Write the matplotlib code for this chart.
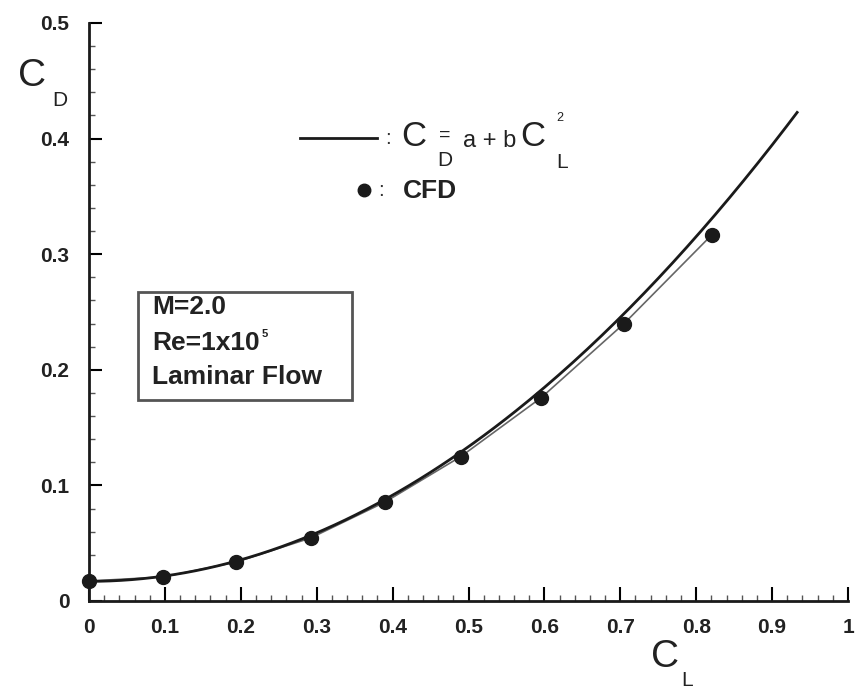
import numpy as np
import matplotlib
matplotlib.use("Agg")
import matplotlib.pyplot as plt
from matplotlib.lines import Line2D
from matplotlib.patches import Rectangle
from matplotlib.ticker import MultipleLocator, FuncFormatter

# CFD results
cl_cfd = [0.0, 0.098, 0.194, 0.292, 0.39, 0.49, 0.596, 0.705, 0.821]
cd_cfd = [0.0173, 0.0208, 0.0337, 0.0545, 0.0856, 0.125, 0.176, 0.240, 0.317]

# drag polar fit  C_D = a + b C_L^2
a_fit = 0.017
b_fit = 0.466
cl_fit_max = 0.933

W, H = 857, 688
plt.rcParams['font.family'] = ['Liberation Sans', 'DejaVu Sans']

def fx(x):
    return x / W

def fy(y):
    return 1 - y / H

fig = plt.figure(figsize=(W / 100, H / 100), dpi=100)
ax = fig.add_axes([fx(89), fy(601), (848 - 89) / W, (601 - 23) / H])

cl = np.linspace(0, cl_fit_max, 200)
ax.plot(cl, a_fit + b_fit * cl ** 2, color='#1a1a1a', lw=2.0, zorder=3)
ax.plot(cl_cfd, cd_cfd, color='#666666', lw=1.2, zorder=2)
ax.plot(cl_cfd, cd_cfd, 'o', color='#1a1a1a', ms=10, zorder=4, clip_on=False)

ax.set_xlim(0, 1)
ax.set_ylim(0, 0.5)
for s in ['top', 'right']:
    ax.spines[s].set_visible(False)
for s in ['left', 'bottom']:
    ax.spines[s].set_linewidth(2)
    ax.spines[s].set_color('#1a1a1a')

ax.xaxis.set_major_locator(MultipleLocator(0.1))
ax.xaxis.set_minor_locator(MultipleLocator(0.02))
ax.yaxis.set_major_locator(MultipleLocator(0.1))
ax.yaxis.set_minor_locator(MultipleLocator(0.02))
fmt = FuncFormatter(lambda v, p: '%g' % round(v, 2))
ax.xaxis.set_major_formatter(fmt)
ax.yaxis.set_major_formatter(fmt)
ax.tick_params(axis='x', which='major', direction='in', length=10, width=1.5, pad=12)
ax.tick_params(axis='y', which='major', direction='in', length=9, width=1.5, pad=14)
ax.tick_params(which='minor', direction='in', length=4, width=1, color='#555555')
for lab in ax.get_xticklabels() + ax.get_yticklabels():
    lab.set_fontweight('bold')
    lab.set_fontsize(15)
    lab.set_color('#222222')

# axis titles
fig.text(fx(18), fy(76), 'C', fontsize=28, va='center', ha='left', color='#222222')
fig.text(fx(52), fy(101), 'D', fontsize=15, va='center', ha='left', color='#222222')
fig.text(fx(651), fy(657), 'C', fontsize=28, va='center', ha='left', color='#222222')
fig.text(fx(681), fy(680), 'L', fontsize=15, va='center', ha='left', color='#222222')

# legend
fig.add_artist(Line2D([fx(300), fx(377)], [fy(138), fy(138)], color='#1a1a1a', lw=2))
fig.text(fx(385), fy(138), ':', fontsize=15, va='center', ha='left', color='#333333')
fig.text(fx(401), fy(136), 'C', fontsize=25, va='center', ha='left', color='#222222')
fig.text(fx(437), fy(161), 'D', fontsize=15, va='center', ha='left', color='#222222')
fig.text(fx(439), fy(135), '=', fontsize=14, va='center', ha='left', color='#222222')
fig.text(fx(463), fy(141), 'a + b', fontsize=17, va='center', ha='left', color='#222222')
fig.text(fx(520), fy(136), 'C', fontsize=25, va='center', ha='left', color='#222222')
fig.text(fx(556), fy(162), 'L', fontsize=15, va='center', ha='left', color='#222222')
fig.text(fx(556), fy(118), '2', fontsize=9, va='center', ha='left', color='#222222')

fig.add_artist(Line2D([fx(364)], [fy(190)], marker='o', ms=9, color='#1a1a1a'))
fig.text(fx(378), fy(190), ':', fontsize=15, va='center', ha='left', color='#333333')
fig.text(fx(403), fy(191), 'CFD', fontsize=19, fontweight='bold', va='center', ha='left', color='#222222')

# flow conditions box
fig.add_artist(Rectangle((fx(138), fy(400)), (352 - 138) / W, (400 - 292) / H,
                         transform=fig.transFigure, fill=False, lw=2, edgecolor='#555555'))
fig.text(fx(152), fy(307), 'M=2.0', fontsize=19, fontweight='bold', va='center', ha='left', color='#222222')
fig.text(fx(152), fy(343), 'Re=1x10', fontsize=19, fontweight='bold', va='center', ha='left', color='#222222')
fig.text(fx(262), fy(334), '5', fontsize=8, fontweight='bold', va='center', ha='left', color='#222222')
fig.text(fx(152), fy(377), 'Laminar Flow', fontsize=19, fontweight='bold', va='center', ha='left', color='#222222')

fig.savefig('out.png', dpi=100)
